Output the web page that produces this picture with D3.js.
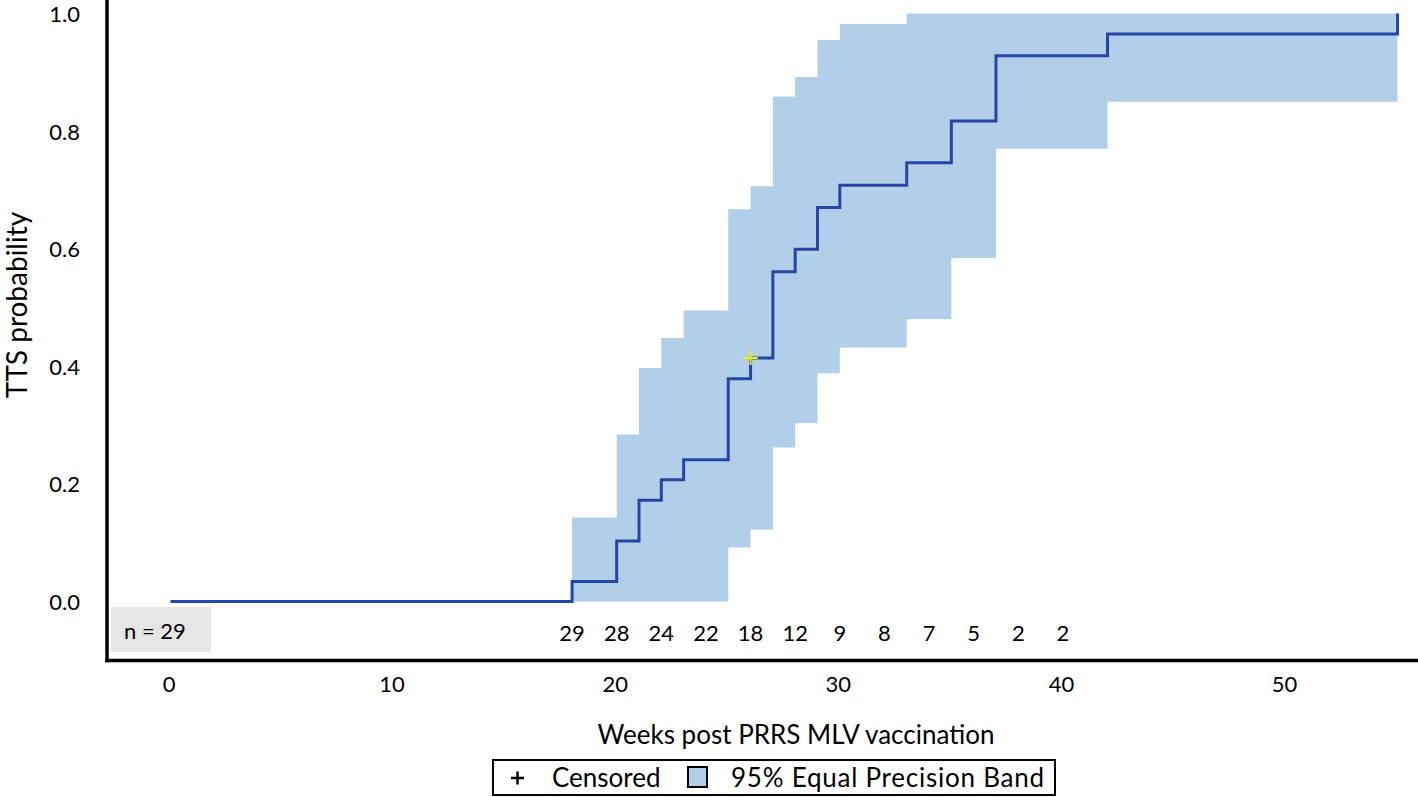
<!DOCTYPE html>
<html>
<head>
<meta charset="utf-8">
<script src="https://cdn.jsdelivr.net/npm/d3@7"></script>
<style>
  html, body { margin: 0; padding: 0; background: #ffffff; }
  svg { display: block; font-family: Lato, "Open Sans", sans-serif; }
</style>
</head>
<body>
<svg id="chart" width="1418" height="797"></svg>
<script>
// ---- Data ----
const stepTimes = [0, 18, 20, 21, 22, 23, 25, 26, 27, 28, 29, 30, 33, 35, 37, 42, 55];
const stepValues = [0, 0.034, 0.103, 0.172, 0.207, 0.241, 0.379, 0.414, 0.561, 0.599, 0.670, 0.708, 0.746, 0.817, 0.928, 0.965, 1.0];

const bandTimes = [18, 20, 21, 22, 23, 25, 26, 27, 28, 29, 30, 33, 35, 37, 42, 55];
const bandLower = [0, 0, 0, 0, 0, 0.092, 0.122, 0.262, 0.303, 0.388, 0.432, 0.48, 0.584, 0.77, 0.85, 0.85];
const bandUpper = [0.143, 0.284, 0.397, 0.448, 0.495, 0.667, 0.706, 0.859, 0.892, 0.955, 0.982, 1.0, 1.0, 1.0, 1.0, 1.0];

const censorTimes = [26];
const censorValues = [0.414];

const riskWeeks = [18, 20, 22, 24, 26, 28, 30, 32, 34, 36, 38, 40];
const riskCounts = [29, 28, 24, 22, 18, 12, 9, 8, 7, 5, 2, 2];

const xTicks = [0, 10, 20, 30, 40, 50];
const yTicks = [0, 0.2, 0.4, 0.6, 0.8, 1.0];

const xTitle = "Weeks post PRRS MLV vaccination";
const yTitle = "TTS probability";
const nLabel = "n = 29";
const legendCensored = "Censored";
const legendBand = "95% Equal Precision Band";

// ---- Layout ----
const svg = d3.select("#chart");
const x = d3.scaleLinear().domain([0, 50]).range([170.5, 1286]);
const y = d3.scaleLinear().domain([0, 1]).range([601.5, 13.5]);

const axisLeftX = 107, axisBottomY = 660.5;
const FONT = "Lato, 'Open Sans', sans-serif";

// band
const bandData = bandTimes.map((t, i) => ({t, lo: bandLower[i], hi: bandUpper[i]}));
svg.append("path")
  .datum(bandData)
  .attr("fill", "#b2cfe9")
  .attr("d", d3.area().curve(d3.curveStepAfter)
    .x(d => x(d.t)).y0(d => y(d.lo)).y1(d => y(d.hi)));

// step line
const stepData = stepTimes.map((t, i) => ({t, v: stepValues[i]}));
svg.append("path")
  .datum(stepData)
  .attr("fill", "none")
  .attr("stroke", "#2446a6")
  .attr("stroke-width", 3)
  .attr("d", d3.line().curve(d3.curveStepAfter).x(d => x(d.t)).y(d => y(d.v)));

// censor marks
censorTimes.forEach((t, i) => {
  const cx = x(t), cy = y(censorValues[i]);
  svg.append("path")
    .attr("d", `M${cx - 7},${cy}H${cx + 7}M${cx},${cy - 7}V${cy + 7}`)
    .attr("stroke", "#f2f200").attr("stroke-width", 2).attr("fill", "none");
});

// n box
svg.append("rect").attr("x", 111).attr("y", 607).attr("width", 100).attr("height", 45).attr("fill", "#e6e6e6");
svg.append("text").attr("x", 124).attr("y", 639).attr("font-size", 22).attr("fill", "#000").text(nLabel);

// at risk numbers
svg.selectAll("text.risk").data(riskWeeks).enter().append("text")
  .attr("class", "risk")
  .attr("x", d => x(d)).attr("y", 641)
  .attr("text-anchor", "middle").attr("font-size", 22).attr("fill", "#000")
  .text((d, i) => riskCounts[i]);

// axes lines
svg.append("line").attr("x1", axisLeftX).attr("x2", axisLeftX).attr("y1", 0).attr("y2", axisBottomY + 1.75)
  .attr("stroke", "#000").attr("stroke-width", 3.5);
svg.append("line").attr("x1", axisLeftX - 1.75).attr("x2", 1418).attr("y1", axisBottomY).attr("y2", axisBottomY)
  .attr("stroke", "#000").attr("stroke-width", 3.5);

// x axis tick labels via d3 axis
const xAxis = d3.axisBottom(x).tickValues(xTicks).tickSize(0).tickPadding(0).tickFormat(d3.format("d"));
const gx = svg.append("g").attr("transform", `translate(-2,${axisBottomY + 16})`).call(xAxis);
gx.select(".domain").remove();
gx.selectAll("text").attr("font-size", 22).attr("fill", "#000").attr("font-family", FONT);

// y axis tick labels
const yAxis = d3.axisLeft(y).tickValues(yTicks).tickSize(0).tickPadding(0).tickFormat(d3.format(".1f"));
const gy = svg.append("g").attr("transform", `translate(80,1)`).call(yAxis);
gy.select(".domain").remove();
gy.selectAll("text").attr("font-size", 22).attr("fill", "#000").attr("font-family", FONT);

// titles
svg.append("text").attr("x", 796).attr("y", 744).attr("text-anchor", "middle")
  .attr("font-size", 26).attr("fill", "#000").text(xTitle);
svg.append("text").attr("transform", "translate(27,305) rotate(-90)").attr("text-anchor", "middle")
  .attr("font-size", 28).attr("fill", "#000").text(yTitle);

// legend
const lg = svg.append("g");
lg.append("rect").attr("x", 493).attr("y", 760).attr("width", 562).attr("height", 35)
  .attr("fill", "#fff").attr("stroke", "#000").attr("stroke-width", 2);
lg.append("path").attr("d", "M511,778H524M517.5,771.5V784.5").attr("stroke", "#000").attr("stroke-width", 2.5);
lg.append("text").attr("x", 552).attr("y", 787).attr("font-size", 26).attr("fill", "#000").text(legendCensored);
lg.append("rect").attr("x", 688).attr("y", 767).attr("width", 19).attr("height", 20)
  .attr("fill", "#b2cfe9").attr("stroke", "#000").attr("stroke-width", 2);
lg.append("text").attr("x", 731).attr("y", 787).attr("font-size", 26).attr("fill", "#000")
  .attr("textLength", 313).attr("lengthAdjust", "spacing").text(legendBand);
</script>
</body>
</html>
